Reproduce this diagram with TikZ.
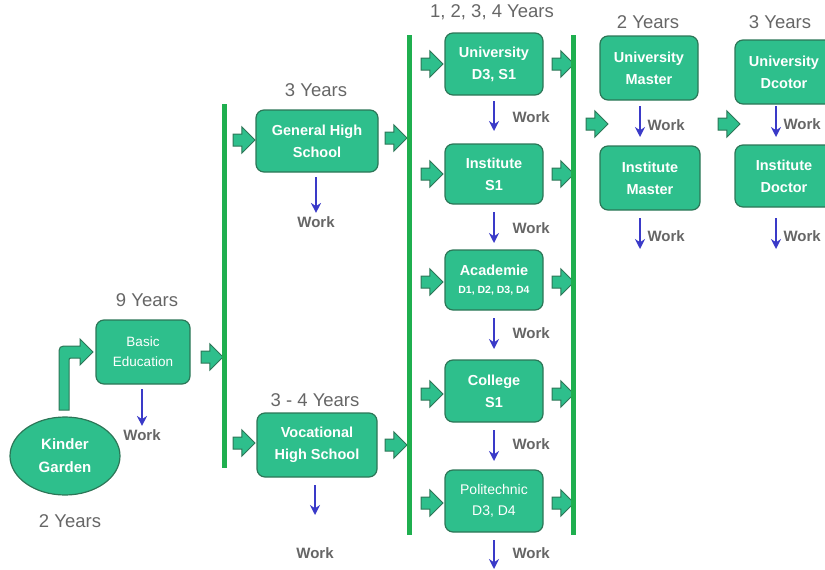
\documentclass[tikz,border=0pt]{standalone}
\usepackage{fontspec}
\setmainfont{Liberation Sans}
\usetikzlibrary{shapes.geometric,shapes.arrows,arrows.meta}
\definecolor{boxfill}{HTML}{2EBF8C}
\definecolor{boxline}{HTML}{2C7657}
\definecolor{barc}{HTML}{1FAF4F}
\definecolor{warr}{HTML}{3A3AC8}
\definecolor{gtext}{HTML}{666666}
\begin{document}
\begin{tikzpicture}[x=1pt,y=-1pt,
  box/.style={draw=boxline, line width=1.2pt, fill=boxfill, rounded corners=8pt, text=white,
    font=\fontsize{14.5}{22}\selectfont\bfseries, align=center, inner sep=0pt},
  blk/.style={single arrow, draw=boxline, fill=boxfill, line width=1pt, minimum height=22pt,
    minimum width=23pt, inner sep=5.5pt},
  barline/.style={draw=barc, line width=5pt},
  warrow/.style={draw=warr, line width=2.6pt, -{Stealth[length=10pt,width=10pt]}},
  yrs/.style={text=gtext, font=\fontsize{18.5}{20}\selectfont},
  wk/.style={text=gtext, font=\fontsize{15}{17}\selectfont\bfseries}
]
\useasboundingbox (0,0) rectangle (825,570);

% Kinder Garden
\node[ellipse, draw=boxline, fill=boxfill, line width=1.2pt, minimum width=110pt, minimum height=78pt,
  text=white, font=\fontsize{15}{23}\selectfont\bfseries, align=center, inner sep=0pt] (kg) at (65,456) {Kinder\\Garden};
\node[yrs] (kgy) at (70,521) {2 Years};

% Basic education
\node[box, minimum width=94pt, minimum height=64pt, font=\fontsize{13.5}{20}\selectfont] (be) at (143,352) {Basic\\Education};
\node[yrs] (bey) at (147,300) {9 Years};
\node[wk] (bew) at (142,435) {Work};
\coordinate (bes) at (142,389);
\draw[warrow] (bes) -- (bew.north);

% bent arrow
\draw[draw=boxline, fill=boxfill, line width=1pt]
  (59,410) -- (59,356) .. controls (59,346) .. (69,346) -- (80,346) -- (80,339) -- (93,352)
  -- (80,365) -- (80,358) -- (73,358) .. controls (69,358) .. (69,362) -- (69,410) -- cycle;

\node[blk] (a1) at (209,357) {};
\draw[barline] (224,104) -- (224,468);
\node[blk] (a2) at (241,140) {};
\node[blk] (a3) at (241,443) {};

% high schools
\node[box, minimum width=122pt, minimum height=62pt] (gh) at (317,141) {General High\\School};
\node[yrs] (ghy) at (316,90) {3 Years};
\node[wk] (ghw) at (316,222) {Work};
\coordinate (ghs) at (316,177);
\draw[warrow] (ghs) -- (ghw.north);

\node[box, minimum width=120pt, minimum height=64pt] (vh) at (317,445) {Vocational\\High School};
\node[yrs] (vhy) at (315,400) {3 - 4 Years};
\node[wk] (vhw) at (315,553) {Work};
\coordinate (vhs) at (315,485);
\coordinate (vhe) at (315,515);
\draw[warrow] (vhs) -- (vhe);

\node[blk] (a4) at (393,138) {};
\node[blk] (a5) at (393,445) {};
\draw[barline] (409,35) -- (409,535);

% column of undergraduate
\node[yrs] (coly) at (492,12) {1, 2, 3, 4 Years};
\node[box, minimum width=98pt, minimum height=62pt] (u1) at (494,64) {University\\D3, S1};
\node[box, minimum width=98pt, minimum height=60pt] (u2) at (494,174) {Institute\\S1};
\node[box, minimum width=98pt, minimum height=60pt] (u3) at (494,280) {Academie\\[-4pt]{\fontsize{10.5}{12}\selectfont D1, D2, D3, D4}};
\node[box, minimum width=98pt, minimum height=62pt] (u4) at (494,391) {College\\S1};
\node[box, minimum width=98pt, minimum height=62pt, font=\fontsize{14}{21}\selectfont] (u5) at (494,501) {Politechnic\\D3, D4};

\foreach \n/\y in {1/64,2/174,3/282,4/394,5/503}{
  \node[blk] (l\n) at (429,\y) {};
  \node[blk] (r\n) at (560,\y) {};
}

\node[wk, anchor=west] (w1) at (509,117) {Work};
\node[wk, anchor=west] (w2) at (509,228) {Work};
\node[wk, anchor=west] (w3) at (509,333) {Work};
\node[wk, anchor=west] (w4) at (509,444) {Work};
\node[wk, anchor=west] (w5) at (509,553) {Work};
\coordinate (s1) at (494,101); \coordinate (e1) at (494,131);
\coordinate (s2) at (494,212); \coordinate (e2) at (494,243);
\coordinate (s3) at (494,318); \coordinate (e3) at (494,349);
\coordinate (s4) at (494,430); \coordinate (e4) at (494,461);
\coordinate (s5) at (494,540); \coordinate (e5) at (494,569);
\foreach \i in {1,...,5}{ \draw[warrow] (s\i) -- (e\i); }

\draw[barline] (573,35) -- (573,535);

% masters
\node[blk] (a6) at (594,124) {};
\node[yrs] (my) at (648,22) {2 Years};
\node[box, minimum width=98pt, minimum height=64pt] (um) at (649,68) {University\\Master};
\node[box, minimum width=100pt, minimum height=64pt] (im) at (650,178) {Institute\\Master};
\node[wk, anchor=west] (mw1) at (644,125) {Work};
\node[wk, anchor=west] (mw2) at (644,236) {Work};
\coordinate (ms1) at (640,106); \coordinate (me1) at (640,137);
\coordinate (ms2) at (640,218); \coordinate (me2) at (640,249);
\draw[warrow] (ms1) -- (me1);
\draw[warrow] (ms2) -- (me2);

% doctors
\node[blk] (a7) at (726,124) {};
\node[yrs] (dy) at (780,22) {3 Years};
\node[box, minimum width=98pt, minimum height=64pt] (ud) at (784,72) {University\\Dcotor};
\node[box, minimum width=98pt, minimum height=62pt] (id) at (784,176) {Institute\\Doctor};
\node[wk, anchor=west] (dw1) at (780,124) {Work};
\node[wk, anchor=west] (dw2) at (780,236) {Work};
\coordinate (ds1) at (776,106); \coordinate (de1) at (776,137);
\coordinate (ds2) at (776,218); \coordinate (de2) at (776,249);
\draw[warrow] (ds1) -- (de1);
\draw[warrow] (ds2) -- (de2);
\end{tikzpicture}
\end{document}
